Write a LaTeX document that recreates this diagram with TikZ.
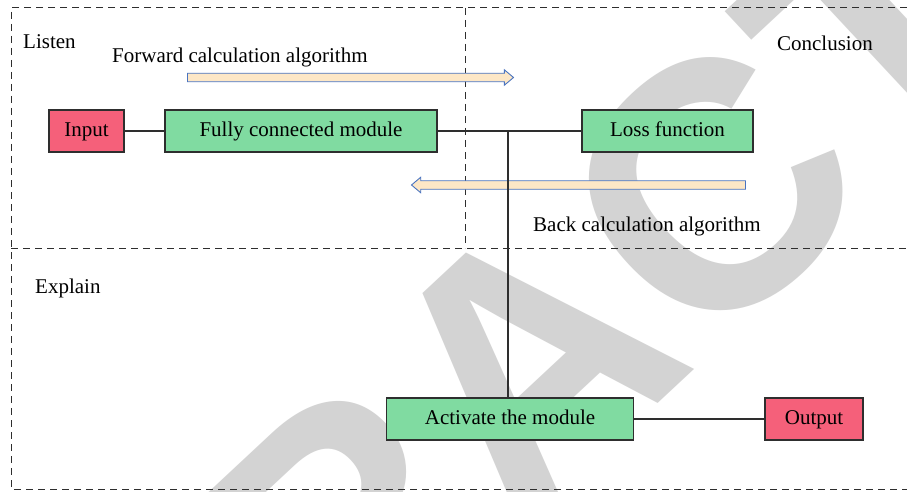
\documentclass[tikz,border=0pt]{standalone}
\usepackage{fontspec}
\setmainfont{Liberation Serif}
\newfontfamily\stampfont{Liberation Sans}
\usetikzlibrary{shapes.arrows}

\definecolor{boxgreen}{HTML}{80DBA1}
\definecolor{boxred}{HTML}{F5607A}
\definecolor{arrowfill}{HTML}{FDE7C6}
\definecolor{arrowline}{HTML}{4A74C0}
\definecolor{stampgray}{HTML}{D3D3D3}
\definecolor{ink}{HTML}{2E2E2E}

\tikzset{
  frame/.style={draw=ink, line width=1pt, dash pattern=on 7pt off 5pt},
  block/.style={draw=ink, line width=1.1pt, inner sep=0pt, minimum height=42pt,
                font=\fontsize{21pt}{24pt}\selectfont, text height=14pt, text depth=4pt},
  greenbox/.style={block, fill=boxgreen},
  redbox/.style={block, fill=boxred},
  wire/.style={draw=ink, line width=1.1pt},
  flow/.style={single arrow, draw=arrowline, fill=arrowfill, line width=0.9pt,
               minimum width=15pt, inner sep=3.8pt, single arrow head extend=3.5pt,
               single arrow tip angle=80},
  label/.style={font=\fontsize{21pt}{24pt}\selectfont, inner sep=0pt}
}

\begin{document}
\begin{tikzpicture}[x=1pt, y=-1pt]
  \useasboundingbox (0,0) rectangle (907,492);
  \fill[white] (0,0) rectangle (907,492);

  % retraction stamp behind everything
  \node[rotate=43, inner sep=0pt, text=stampgray,
        font=\stampfont\bfseries\fontsize{350pt}{350pt}\selectfont]
        (stamp) at (527,361) {RETRACTED};

  % dashed region frame
  \coordinate (tl) at (11,8);
  \coordinate (tr) at (907,8);
  \coordinate (ml) at (11,248);
  \coordinate (mr) at (907,248);
  \coordinate (bl) at (11,489);
  \coordinate (br) at (907,489);
  \coordinate (vt) at (465,8);
  \coordinate (vb) at (465,248);
  \draw[frame] (tr) -- (tl) -- (bl) -- (br);
  \draw[frame] (ml) -- (mr);
  \draw[frame] (vt) -- (vb);

  % region labels
  \node[label, anchor=base west] (listen) at (23,48.5) {Listen};
  \node[label, anchor=base east] (concl) at (873,51) {Conclusion};
  \node[label, anchor=base west] (explain) at (35,293) {Explain};

  % calculation direction arrows
  \node[label, anchor=base west] (fwdtxt) at (112,62.5) {Forward calculation algorithm};
  \node[flow, minimum height=326pt] (fwd) at (348,77.5) {};
  \node[flow, minimum height=334pt, shape border rotate=180] (back) at (581,185) {};
  \node[label, anchor=base west] (backtxt) at (533,231.5) {Back calculation algorithm};

  % blocks
  \node[redbox, minimum width=75pt] (input) at (86.5,131) {Input};
  \node[greenbox, minimum width=272pt] (fc) at (301,131) {Fully connected module};
  \node[greenbox, minimum width=171pt] (loss) at (667.5,131) {Loss function};
  \node[greenbox, minimum width=247pt] (act) at (510,419) {Activate the module};
  \node[redbox, minimum width=98pt] (out) at (814,419) {Output};

  % connections
  \coordinate (junc) at (508,131);
  \draw[wire] (input) -- (fc);
  \draw[wire] (fc) -- (loss);
  \draw[wire] (junc) -- (junc |- act.north);
  \draw[wire] (act) -- (out);
\end{tikzpicture}
\end{document}
